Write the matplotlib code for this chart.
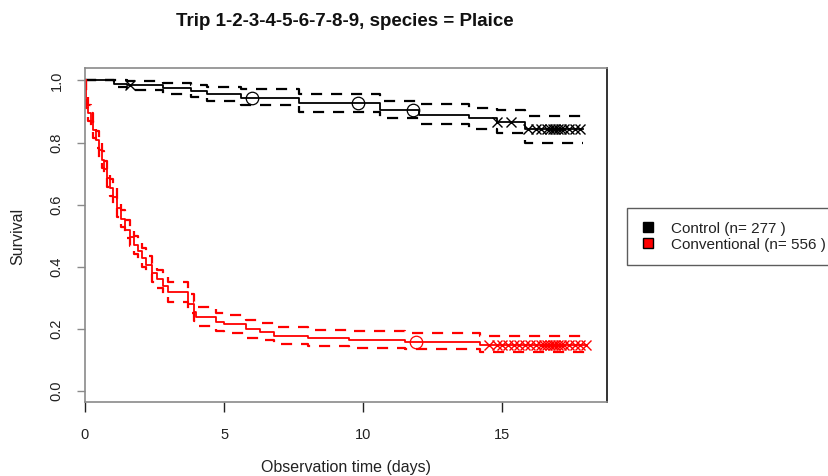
import numpy as np
import matplotlib
matplotlib.use('Agg')
import matplotlib.pyplot as plt
from matplotlib.lines import Line2D

plt.rcParams['font.family'] = ['Liberation Sans', 'DejaVu Sans']

title = 'Trip 1-2-3-4-5-6-7-8-9, species = Plaice'
group_labels = ['Control (n= 277 )', 'Conventional (n= 556 )']

# Control group: Kaplan-Meier steps (time in days, survival) and 95% CI
ctrl_time = [0, 1.05, 1.5, 2.8, 3.8, 4.4, 5.6, 7.7, 10.6, 12.0, 13.8, 14.8, 15.8]
ctrl_surv = [1.0, 0.99, 0.984, 0.975, 0.966, 0.956, 0.945, 0.926, 0.905, 0.89, 0.878, 0.866, 0.845]
ctrl_upper = [1.0, 1.0, 0.998, 0.993, 0.987, 0.98, 0.974, 0.955, 0.935, 0.925, 0.913, 0.905, 0.885]
ctrl_lower = [1.0, 0.978, 0.97, 0.958, 0.947, 0.935, 0.92, 0.898, 0.878, 0.86, 0.845, 0.83, 0.8]
ctrl_end = 17.9
ctrl_circles = [6.0, 9.8, 11.8]
ctrl_crosses = [1.6, 14.8, 15.3, 15.9, 16.2, 16.4, 16.6, 16.7, 16.8, 16.9, 17.0,
                17.1, 17.2, 17.4, 17.6, 17.8]

# Conventional group
conv_time = [0, 0.05, 0.1, 0.2, 0.3, 0.4, 0.5, 0.6, 0.7, 0.8, 0.9, 1.0, 1.15, 1.3,
             1.45, 1.6, 1.75, 1.9, 2.05, 2.2, 2.4, 2.6, 2.8, 3.0, 3.7, 3.9, 4.0,
             4.7, 5.0, 5.8, 6.3, 6.8, 8.0, 9.5, 11.5, 14.2]
conv_surv = [1.0, 0.93, 0.895, 0.87, 0.84, 0.81, 0.775, 0.745, 0.715, 0.685, 0.655,
             0.625, 0.59, 0.555, 0.52, 0.495, 0.47, 0.45, 0.43, 0.405, 0.38, 0.36,
             0.34, 0.32, 0.28, 0.255, 0.24, 0.222, 0.215, 0.2, 0.19, 0.178, 0.17,
             0.163, 0.158, 0.148]
conv_upper = [1.0, 0.95, 0.92, 0.895, 0.866, 0.836, 0.8, 0.772, 0.742, 0.712, 0.683,
              0.653, 0.618, 0.582, 0.55, 0.523, 0.5, 0.48, 0.46, 0.435, 0.41, 0.39,
              0.37, 0.352, 0.313, 0.288, 0.272, 0.252, 0.245, 0.23, 0.22, 0.207,
              0.198, 0.192, 0.187, 0.178]
conv_lower = [1.0, 0.91, 0.87, 0.845, 0.814, 0.783, 0.748, 0.717, 0.687, 0.657, 0.627,
              0.597, 0.562, 0.527, 0.492, 0.467, 0.442, 0.42, 0.4, 0.377, 0.352, 0.332,
              0.312, 0.287, 0.25, 0.226, 0.21, 0.193, 0.186, 0.172, 0.163, 0.152,
              0.145, 0.138, 0.134, 0.126]
conv_end = 18.0
conv_circles = [11.9]
conv_crosses = [14.5, 14.8, 15.0, 15.2, 15.4, 15.6, 15.8, 16.0, 16.2, 16.4, 16.5,
                16.6, 16.7, 16.8, 16.9, 17.0, 17.1, 17.2, 17.4, 17.6, 17.8, 18.0]

groups = [
    (ctrl_time, ctrl_surv, ctrl_upper, ctrl_lower, ctrl_end, ctrl_circles, ctrl_crosses, 'black'),
    (conv_time, conv_surv, conv_upper, conv_lower, conv_end, conv_circles, conv_crosses, 'red'),
]

axis_grey = '#8a8a8a'
text_col = '#222222'

fig = plt.figure(figsize=(8.29, 4.76), dpi=100)
ax = fig.add_axes([0.1025, 0.1555, 0.6295, 0.7015])


def surv_at(times, surv, t):
    idx = np.searchsorted(times, t, side='right') - 1
    return np.asarray(surv)[idx]


for times, surv, up, lo, t_end, circ, cross, col in groups:
    tt = np.append(times, t_end)
    ax.step(tt, np.append(surv, surv[-1]), where='post', color=col, lw=1.3)
    for band in (up, lo):
        ax.step(tt, np.append(band, band[-1]), where='post', color=col, lw=1.6,
                dashes=(5, 4))
    ax.plot(circ, surv_at(times, surv, circ), 'o', mfc='none', mec=col, ms=9, mew=0.9)
    ax.plot(cross, surv_at(times, surv, cross), 'x', color=col, ms=7.5, mew=1.0)

ax.set_xlim(0, 18.75)
ax.set_ylim(-0.035, 1.04)
ax.set_xticks([0, 5, 10, 15])
ax.set_yticks([0.0, 0.2, 0.4, 0.6, 0.8, 1.0])
ax.set_yticklabels(['0.0', '0.2', '0.4', '0.6', '0.8', '1.0'], rotation=90, va='center')
ax.tick_params(axis='x', length=7, width=1, color='#222222', labelsize=10.5,
               labelcolor=text_col, pad=12)
ax.tick_params(axis='y', length=5.5, width=1, color=axis_grey, labelsize=10.5,
               labelcolor=text_col, pad=10)
for side in ('left', 'top', 'bottom'):
    ax.spines[side].set_color(axis_grey)
    ax.spines[side].set_linewidth(1.2)
ax.spines['right'].set_color('#333333')
ax.spines['right'].set_linewidth(1.4)

ax.set_xlabel('Observation time (days)', fontsize=11.5, color=text_col)
ax.xaxis.set_label_coords(0.5, -(468 - 402) / 334, transform=ax.transAxes)
ax.xaxis.label.set_va('center')
ax.set_ylabel('Survival', fontsize=11.5, color=text_col)
ax.yaxis.set_label_coords(-(85 - 18) / 522, (402 - 236) / 334)
ax.yaxis.label.set_va('center')
fig.text(345 / 829, 1 - 22 / 476, title, ha='center', va='center',
         fontsize=13.5, fontweight='bold', color='#111111')

handles = [Line2D([], [], marker='s', ls='none', mfc=c, mec='black', ms=7.5)
           for c in ('black', 'red')]
leg = fig.legend(handles, group_labels, loc='upper left',
                 bbox_to_anchor=(627 / 829, 1 - 208 / 476), fontsize=11,
                 frameon=True, fancybox=False, borderpad=0.9, handletextpad=0.95,
                 handlelength=1.0, labelspacing=0.12, borderaxespad=0)
leg.get_frame().set_edgecolor('#333333')
leg.get_frame().set_linewidth(1.0)
for txt in leg.get_texts():
    txt.set_color(text_col)

fig.savefig('out.png', dpi=100)
